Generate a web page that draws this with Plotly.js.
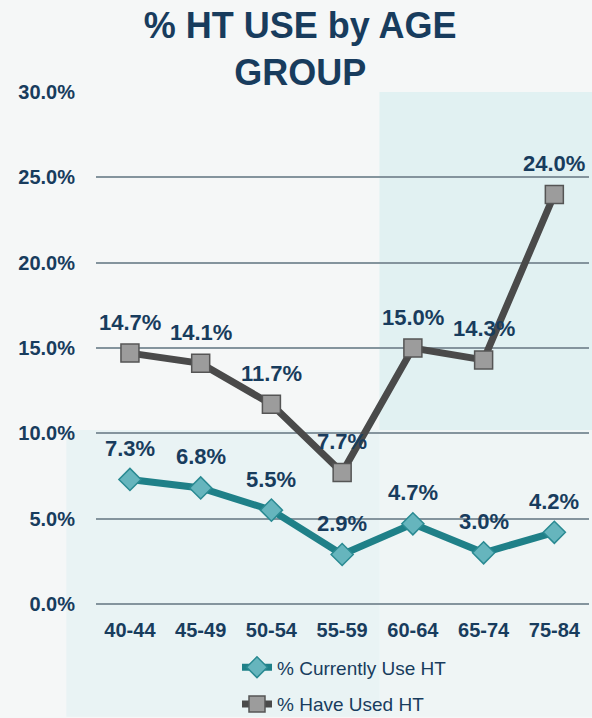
<!DOCTYPE html>
<html>
<head>
<meta charset="utf-8">
<script src="https://cdn.plot.ly/plotly-3.0.1.min.js"></script>
<style>
  html, body { margin: 0; padding: 0; background: #f5f7f7; }
  #chart { width: 592px; height: 718px; }
</style>
</head>
<body>
<div id="chart"></div>
<script>
// age groups and the two series (percent)
var ageGroups = ["40-44", "45-49", "50-54", "55-59", "60-64", "65-74", "75-84"];
var currentUse = [7.3, 6.8, 5.5, 2.9, 4.7, 3.0, 4.2];
var haveUsed = [14.7, 14.1, 11.7, 7.7, 15.0, 14.3, 24.0];
var yTicks = [0, 5, 10, 15, 20, 25, 30];

var navy = "#183c5d";
var font = "Liberation Sans, Arial, sans-serif";

var traceCurrent = {
  x: ageGroups, y: currentUse,
  name: "% Currently Use HT",
  mode: "lines+markers",
  line: {color: "#1f8088", width: 7},
  marker: {symbol: "diamond", size: 17, color: "#66b5bd", line: {color: "#2a8a92", width: 1.5}},
  legendgroup: "a",
  hoverinfo: "skip"
};

var traceHave = {
  x: ageGroups, y: haveUsed,
  name: "% Have Used HT",
  mode: "lines+markers",
  line: {color: "#4a4a4a", width: 7},
  marker: {symbol: "square", size: 18, color: "#9c9c9c", line: {color: "#555555", width: 1.5}},
  legendgroup: "b",
  hoverinfo: "skip"
};

// value labels above each point
var labels = [];
function addLabels(vals) {
  for (var i = 0; i < vals.length; i++) {
    labels.push({
      x: ageGroups[i], y: vals[i],
      text: vals[i].toFixed(1) + "%",
      showarrow: false,
      yshift: 31,
      font: {family: font, size: 22, color: navy, weight: "bold"}
    });
  }
}
addLabels(haveUsed);
addLabels(currentUse);

var layout = {
  width: 592, height: 718,
  margin: {l: 96, r: 3, t: 92, b: 114},
  paper_bgcolor: "#f5f7f7",
  plot_bgcolor: "rgba(0,0,0,0)",
  title: {
    text: "% HT USE by AGE<br>GROUP",
    x: 0.507, xanchor: "center",
    y: 0.947, yanchor: "top",
    font: {family: font, size: 36, color: navy, weight: "bold"}
  },
  xaxis: {
    type: "category",
    range: [-0.48, 6.49],
    showgrid: false, zeroline: false, showline: false,
    ticks: "", ticklabelstandoff: 12,
    tickfont: {family: font, size: 20, color: navy, weight: "bold"}
  },
  yaxis: {
    range: [0, 30],
    tickvals: yTicks,
    ticktext: yTicks.map(function (v) { return v.toFixed(1) + "%"; }),
    showgrid: true, gridcolor: "#84949d", gridwidth: 2,
    zeroline: true, zerolinecolor: "#84949d", zerolinewidth: 2,
    showline: false,
    ticks: "", ticklabelstandoff: 20,
    tickfont: {family: font, size: 20, color: navy, weight: "bold"}
  },
  showlegend: true,
  legend: {
    orientation: "v",
    xref: "paper", x: 0.286, xanchor: "left",
    yref: "container", y: 0.097, yanchor: "top",
    tracegroupgap: 9,
    bgcolor: "rgba(0,0,0,0)",
    font: {family: font, size: 19, color: navy}
  },
  shapes: [
    {type: "rect", xref: "paper", yref: "paper", x0: 0.575, x1: 1.01, y0: 0.34, y1: 1.0,
     fillcolor: "rgba(190,230,232,0.35)", line: {width: 0}, layer: "below"},
    {type: "rect", xref: "paper", yref: "paper", x0: -0.06, x1: 0.575, y0: -0.22, y1: 0.34,
     fillcolor: "rgba(200,235,236,0.28)", line: {width: 0}, layer: "below"},
    {type: "rect", xref: "paper", yref: "paper", x0: 0.575, x1: 1.01, y0: -0.22, y1: 0.34,
     fillcolor: "rgba(215,238,239,0.2)", line: {width: 0}, layer: "below"}
  ],
  annotations: labels
};

Plotly.newPlot("chart", [traceCurrent, traceHave], layout, {displayModeBar: false, staticPlot: true});
</script>
</body>
</html>
